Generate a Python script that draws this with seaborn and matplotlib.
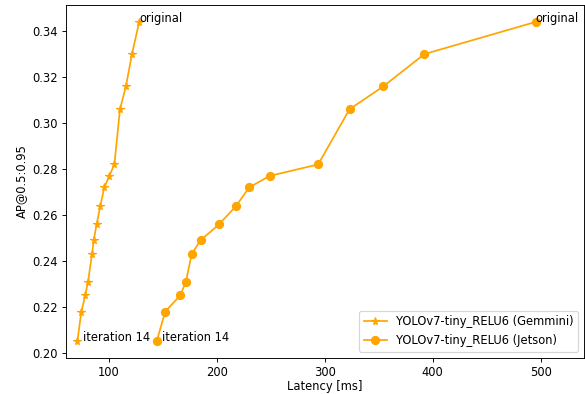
import matplotlib
matplotlib.use("Agg")
import matplotlib.pyplot as plt
import seaborn as sns
import pandas as pd

ap = [0.344, 0.330, 0.316, 0.306, 0.282, 0.277, 0.272, 0.264, 0.256, 0.249, 0.243, 0.231, 0.225, 0.218, 0.205]
gemmini_latency = [128.0, 121.3, 115.7, 110.2, 105.0, 100.3, 95.7, 92.0, 88.6, 85.8, 84.3, 80.6, 78.0, 74.4, 70.7]
jetson_latency = [495.4, 392.3, 354.3, 322.9, 293.8, 248.8, 229.9, 217.9, 202.1, 184.9, 176.6, 171.3, 166.0, 152.1, 144.2]
series_labels = ["YOLOv7-tiny_RELU6 (Gemmini)", "YOLOv7-tiny_RELU6 (Jetson)"]
first_label = "original"
last_label = "iteration 14"

DPI = 83
fig = plt.figure(figsize=(585 / DPI, 394 / DPI), dpi=DPI)
ax = fig.add_axes([0.1125, 0.0925, 0.8855, 0.8945])

df_g = pd.DataFrame({"lat": gemmini_latency, "ap": ap})
df_j = pd.DataFrame({"lat": jetson_latency, "ap": ap})

sns.lineplot(data=df_g, x="lat", y="ap", sort=False, marker="*", color="orange",
             markeredgecolor="orange", markeredgewidth=1, markersize=7, linewidth=1.5,
             label=series_labels[0], ax=ax)
sns.lineplot(data=df_j, x="lat", y="ap", sort=False, marker="o", color="orange",
             markeredgecolor="orange", markeredgewidth=1, markersize=7, linewidth=1.5,
             label=series_labels[1], ax=ax)

for lat in (gemmini_latency, jetson_latency):
    ax.text(lat[0], ap[0], first_label, fontsize=10)
    ax.text(lat[-1] + 5, ap[-1], last_label, fontsize=10)

ax.set_xlim(60, 540)
ax.set_ylim(0.198, 0.3513)
ax.set_xlabel("Latency [ms]", labelpad=1.5)
ax.set_ylabel("AP@0.5:0.95")
ax.legend(loc="lower right")

fig.savefig("out.png", dpi=DPI)
